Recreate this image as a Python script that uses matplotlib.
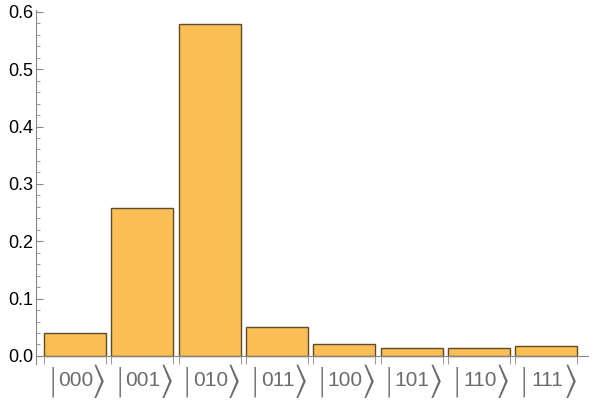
import numpy as np
import matplotlib.pyplot as plt
from matplotlib.ticker import MultipleLocator, FormatStrFormatter

# Вероятности состояний
states = ['000', '001', '010', '011', '100', '101', '110', '111']
probs = [0.040, 0.258, 0.578, 0.050, 0.020, 0.0135, 0.0135, 0.017]

bar_w = 0.92
axis_col = '#888888'
lab_col = '#6c6c6c'

plt.rcParams['font.family'] = ['Liberation Sans', 'DejaVu Sans']

fig = plt.figure(figsize=(6.02, 4.04), dpi=100)
ax = fig.add_axes([36/602, 40/404, 552/602, 354.5/404])

x = np.arange(len(states))
ax.bar(x, probs, width=bar_w, color='#FBBF55', edgecolor='#5F4B28', linewidth=1.0)

ax.set_xlim(-0.58, 7.62)
ax.set_ylim(-0.014, 0.604)

for s in ['top', 'right']:
    ax.spines[s].set_visible(False)
ax.spines['bottom'].set_position(('data', 0))
ax.spines['bottom'].set_color(axis_col)
ax.spines['left'].set_color(axis_col)

# ось Y
ax.yaxis.set_major_locator(MultipleLocator(0.1))
ax.yaxis.set_minor_locator(MultipleLocator(0.02))
ax.yaxis.set_major_formatter(FormatStrFormatter('%.1f'))
ax.tick_params(axis='y', which='major', direction='in', length=5, color=axis_col, labelsize=13, pad=2)
ax.tick_params(axis='y', which='minor', direction='in', length=3, color=axis_col)

# ось X: метки по краям столбцов
edges = np.sort(np.concatenate([x - bar_w/2, x + bar_w/2]))
ax.set_xticks(edges, minor=True)
ax.set_xticks([])
ax.tick_params(axis='x', which='minor', direction='out', length=6, color=axis_col)

# подписи-кеты |abc>
for xi, s in zip(x, states):
    ax.annotate(s, (xi, 0), xytext=(0.5, -18), textcoords='offset points',
                ha='center', va='center', fontsize=15, color=lab_col)
    ax.annotate('|', (xi, 0), xytext=(-16.3, -18.5), textcoords='offset points',
                ha='center', va='center', fontsize=22, color=lab_col,
                family='DejaVu Sans', fontweight='light')
    ax.annotate('⟩', (xi, 0), xytext=(17.5, -18.5), textcoords='offset points',
                ha='center', va='center', fontsize=26, color=lab_col,
                family=['STIXGeneral', 'DejaVu Sans'])

fig.savefig('out.png', dpi=100)
